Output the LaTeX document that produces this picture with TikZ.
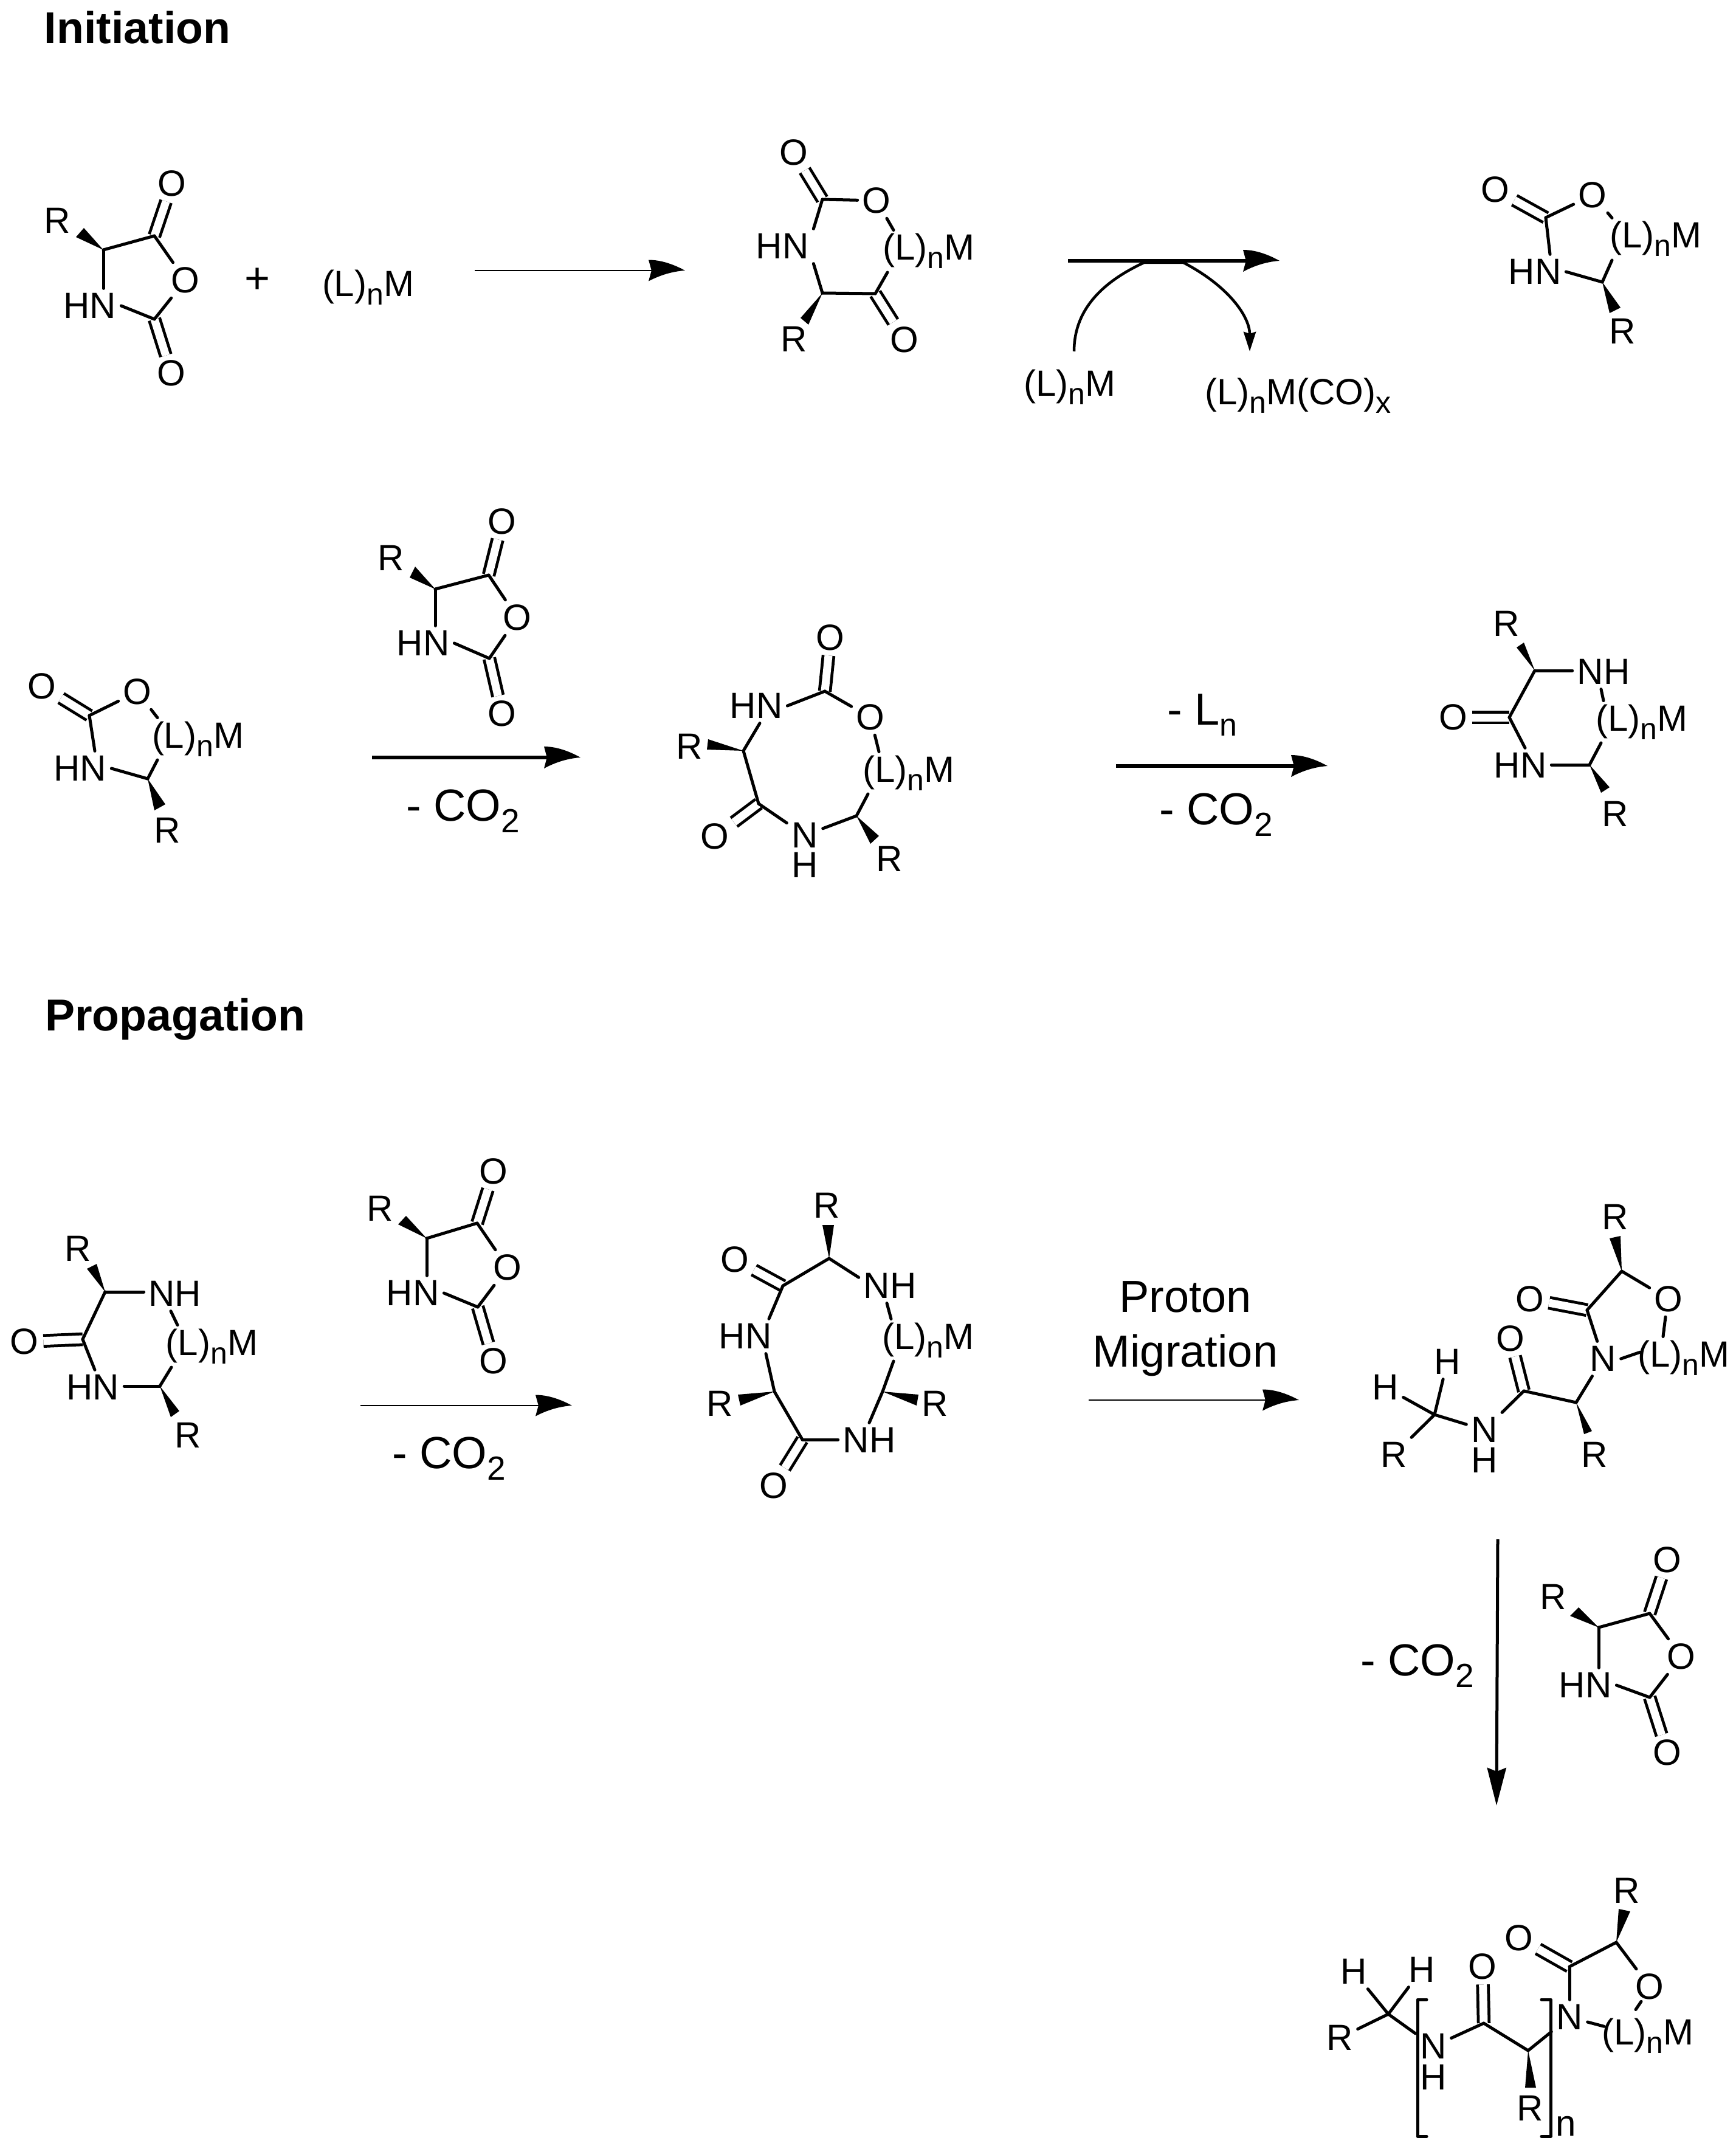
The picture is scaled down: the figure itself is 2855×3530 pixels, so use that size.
\documentclass[tikz,border=0pt]{standalone}
\usepackage{fontspec}
\setmainfont{Liberation Sans}
\usetikzlibrary{arrows.meta,calc}
\newcommand{\sbs}[1]{\raisebox{-2.8pt}{\fontsize{10}{10}\selectfont #1}}
\newcommand{\sbl}[1]{\raisebox{-3.8pt}{\fontsize{11}{11}\selectfont #1}}
\newcommand{\LnM}{\hspace*{-2pt}(L)\sbs{n}M}
\newcommand{\minCO}{- CO\sbl{2}}
\pgfdeclarearrow{
  name=ChemHead,
  setup code={
    \pgfarrowssettipend{0pt}
    \pgfarrowssetlineend{-0.7\pgfarrowlength}
    \pgfarrowssetbackend{-\pgfarrowlength}
    \pgfarrowshullpoint{0pt}{0pt}
    \pgfarrowsupperhullpoint{-\pgfarrowlength}{0.5\pgfarrowwidth}
    \pgfarrowssavethe\pgfarrowlength
    \pgfarrowssavethe\pgfarrowwidth
  },
  drawing code={
    \pgfpathmoveto{\pgfpointorigin}
    \pgfpathcurveto{\pgfpoint{-0.3\pgfarrowlength}{0.28\pgfarrowwidth}}{\pgfpoint{-0.65\pgfarrowlength}{0.5\pgfarrowwidth}}{\pgfpoint{-\pgfarrowlength}{0.5\pgfarrowwidth}}
    \pgfpathlineto{\pgfpoint{-0.92\pgfarrowlength}{0pt}}
    \pgfpathlineto{\pgfpoint{-\pgfarrowlength}{-0.5\pgfarrowwidth}}
    \pgfpathcurveto{\pgfpoint{-0.6\pgfarrowlength}{-0.14\pgfarrowwidth}}{\pgfpoint{-0.25\pgfarrowlength}{-0.03\pgfarrowwidth}}{\pgfpointorigin}
    \pgfpathclose
    \pgfusepathqfill
  },
  parameters={\the\pgfarrowlength,\the\pgfarrowwidth},
  defaults={length=12pt,width=7pt}
}
\tikzset{
  atom/.style={inner sep=0pt,outer sep=1.6pt,font=\fontsize{12}{12}\selectfont},
  lgand/.style={inner sep=0pt,outer sep=1.2pt,anchor=base west,font=\fontsize{12}{12}\selectfont},
  rxn/.style={inner sep=0pt,anchor=base west,font=\fontsize{14.8}{14.8}\selectfont},
  title/.style={inner sep=0pt,anchor=base west,font=\fontsize{14.7}{14.7}\selectfont\bfseries},
  bnd/.style={draw=black,line width=1pt,line cap=round,line join=round},
  dbl/.style={draw=black,line width=0.95pt,double=white,double distance=2.6pt},
  wdg/.style={fill=black,draw=none},
  thinarrow/.style={draw=black,line width=0.3pt,-{ChemHead[length=12pt,width=7pt]}},
  thickarrow/.style={draw=black,line width=1.2pt,-{ChemHead[length=12pt,width=7.2pt]}},
}
\begin{document}
\begin{tikzpicture}[x=0.2pt,y=-0.2pt]
\useasboundingbox (0,0) rectangle (2855,3530);
\node[title] (tInit) at (72,72) {Initiation};
\node[title] (tProp) at (73,1695) {Propagation};

% --- molecule a
\node[atom] (aR) at (94,363) {R};
\node[atom] (aHN) at (148,503) {HN};
\node[atom] (aO1) at (283,302) {O};
\node[atom] (aOr) at (305,461) {O};
\node[atom] (aO2) at (282,614) {O};
\coordinate (aC1) at (170,411);
\coordinate (aC2) at (254,388);
\coordinate (aC3) at (254,525);
\draw[dbl] (aC2) -- (aO1);
\draw[dbl] (aC3) -- (aO2);
\draw[bnd] (aC1) -- (aC2);
\draw[bnd] (aC1) -- (aC1 |- aHN.north);
\draw[bnd] (aC2) -- (aOr);
\draw[bnd] (aOr) -- (aC3);
\draw[bnd] (aHN.east) -- (aC3);
\fill[wdg] (aC1) -- (125,390) -- (138,375) -- cycle;
\node[inner sep=0pt,font=\fontsize{14.4}{14.4}\selectfont] (plus) at (424,462) {+};
\node[lgand] (rgL) at (534,488) {\LnM};
\coordinate (ar1s) at (781,445);
\coordinate (ar1e) at (1127,445);
\draw[thinarrow] (ar1s) -- (ar1e);

% --- molecule b
\node[atom] (bO1) at (1306,251) {O};
\node[atom] (bHN) at (1287,405) {HN};
\node[atom] (bR) at (1306,558) {R};
\node[atom] (bO) at (1442,330) {O};
\node[atom] (bO2) at (1488,559) {O};
\node[lgand] (bL) at (1456,428) {\LnM};
\coordinate (bC1) at (1353,328);
\coordinate (bC2) at (1353,482);
\coordinate (bC3) at (1440,483);
\draw[dbl] (bC1) -- (bO1);
\draw[dbl] (bC3) -- (bO2);
\draw[bnd] (bC1) -- (bO);
\draw[bnd] (bHN.north east) -- (bC1);
\draw[bnd] (bHN.south east) -- (bC2);
\draw[bnd] (bC2) -- (bC3);
\draw[bnd] (bC3) -- ([xshift=0.8pt]bL.south west);
\draw[bnd] (bO) -- ([xshift=2.8pt]bL.north west);
\fill[wdg] (bC2) -- (1317,523) -- (1330,534) -- cycle;

% --- arrow 2 with curved side arrow
\coordinate (ar2s) at (1757,429);
\coordinate (ar2e) at (2105,429);
\draw[thickarrow] (ar2s) -- (ar2e);
\node[lgand] (sideL) at (1688,652) {\LnM};
\node[lgand] (sideCO) at (1986,665) {\LnM(CO)\sbs{x}};
\coordinate (cv1) at (1767,578);
\coordinate (cv2) at (1882,432);
\coordinate (cv3) at (1947,432);
\coordinate (cv4) at (2056,578);
\draw[line width=0.9pt,-{Stealth[length=6.4pt,width=4pt,inset=0.6pt]}] (cv1) .. controls (1767,520) and (1800,470) .. (cv2) -- (cv3) .. controls (2020,470) and (2056,520) .. (cv4);

% --- molecule c
\node[atom] (cO1) at (2460,312) {O};
\node[atom] (cO) at (2620,321) {O};
\node[atom] (cHN) at (2525,447) {HN};
\node[lgand] (cL) at (2652,408) {\LnM};
\node[atom] (cR) at (2669,545) {R};
\coordinate (cC1) at (2543,358);
\coordinate (cC2) at (2636,464);
\draw[dbl] (cC1) -- (cO1);
\draw[bnd] (cC1) -- (cO);
\draw[bnd] (cC1) -- ([xshift=5pt]cHN.north);
\draw[bnd] (cHN.east) -- (cC2);
\draw[bnd] (cC2) -- (cL.south west);
\draw[bnd] (cO) -- (cL.north west);
\fill[wdg] (cC2) -- (2648,515) -- (2666,506) -- cycle;

% --- molecule d
\node[atom] (dO1) at (69,1129) {O};
\node[atom] (dO) at (226,1138) {O};
\node[atom] (dHN) at (132,1264) {HN};
\node[lgand] (dL) at (254,1230) {\LnM};
\node[atom] (dR) at (275,1366) {R};
\coordinate (dC1) at (147,1177);
\coordinate (dC2) at (243,1281);
\draw[dbl] (dC1) -- (dO1);
\draw[bnd] (dC1) -- (dO);
\draw[bnd] (dC1) -- ([xshift=4.8pt]dHN.north);
\draw[bnd] (dHN.east) -- (dC2);
\draw[bnd] (dC2) -- ([xshift=1pt]dL.south west);
\draw[bnd] (dO) -- ([xshift=1pt]dL.north west);
\fill[wdg] (dC2) -- (254,1333) -- (272,1323) -- cycle;

% --- molecule e
\node[atom] (eR) at (643,918) {R};
\node[atom] (eHN) at (696,1058) {HN};
\node[atom] (eO1) at (826,858) {O};
\node[atom] (eOr) at (851,1016) {O};
\node[atom] (eO2) at (826,1174) {O};
\coordinate (eC1) at (716,969);
\coordinate (eC2) at (804,946);
\coordinate (eC3) at (805,1083);
\draw[dbl] (eC2) -- (eO1);
\draw[dbl] (eC3) -- (eO2);
\draw[bnd] (eC1) -- (eC2);
\draw[bnd] (eC1) -- (eC1 |- eHN.north);
\draw[bnd] (eC2) -- (eOr);
\draw[bnd] (eOr) -- (eC3);
\draw[bnd] (eHN.east) -- (eC3);
\fill[wdg] (eC1) -- (674,950) -- (683,932) -- cycle;

\coordinate (ar3s) at (612,1246);
\coordinate (ar3e) at (955,1246);
\draw[thickarrow] (ar3s) -- (ar3e);
\node[rxn] (lb3) at (667,1350) {\minCO};

% --- molecule f
\node[atom] (fO1) at (1366,1049) {O};
\node[atom] (fHN) at (1244,1161) {HN};
\node[atom] (fO) at (1432,1180) {O};
\node[atom] (fR) at (1134,1228) {R};
\node[atom] (fO2) at (1176,1376) {O};
\node[atom] (fN) at (1324,1374) {N};
\node[atom] (fH) at (1324,1423) {H};
\node[lgand] (fL) at (1423,1286) {\LnM};
\node[atom] (fR2) at (1463,1413) {R};
\coordinate (fC1) at (1357,1137);
\coordinate (fC2) at (1223,1235);
\coordinate (fC3) at (1248,1322);
\coordinate (fC4) at (1409,1342);
\draw[dbl] (fC1) -- (fO1);
\draw[dbl] (fC3) -- (fO2);
\draw[bnd] (fC1) -- (fO);
\draw[bnd] (fHN.east) -- (fC1);
\draw[bnd] ([xshift=1.2pt]fHN.south) -- (fC2);
\draw[bnd] (fC2) -- (fC3);
\draw[bnd] (fC3) -- (fN);
\draw[bnd] (fN) -- (fC4);
\draw[bnd] (fC4) -- ([xshift=1pt]fL.south west);
\draw[bnd] (fO) -- ([xshift=4.6pt]fL.north west);
\fill[wdg] (fC2) -- (1165,1216) -- (1163,1233) -- cycle;
\fill[wdg] (fC4) -- (1446,1375) -- (1432,1388) -- cycle;

\coordinate (ar4s) at (1836,1260);
\coordinate (ar4e) at (2184,1260);
\draw[thickarrow] (ar4s) -- (ar4e);
\node[rxn] (lb4a) at (1919,1192) {- L\raisebox{-3.6pt}{\fontsize{10.4}{10.4}\selectfont n}};
\node[rxn] (lb4b) at (1906,1356) {\minCO};

% --- molecule g
\node[atom] (gR) at (2478,1026) {R};
\node[atom] (gNH) at (2638,1105) {NH};
\node[atom] (gO) at (2391,1180) {O};
\node[atom] (gHN) at (2501,1259) {HN};
\node[lgand] (gL) at (2629,1202) {\LnM};
\node[atom] (gR2) at (2657,1339) {R};
\coordinate (gC1) at (2525,1103);
\coordinate (gC2) at (2483,1180);
\coordinate (gC3) at (2615,1258);
\draw[dbl] (gC2) -- (gO);
\draw[bnd] (gC1) -- (gC2);
\draw[bnd] (gC1) -- (gC1 -| gNH.west);
\draw[bnd] (gC2) -- ([xshift=1.6pt]gHN.north);
\draw[bnd] (gC3 -| gHN.east) -- (gC3);
\draw[bnd] (gC3) -- ([xshift=1pt]gL.south west);
\draw[bnd] ([xshift=-0.8pt]gNH.south) -- ([xshift=1.8pt]gL.north west);
\fill[wdg] (gC1) -- (2495,1065) -- (2507,1057) -- cycle;
\fill[wdg] (gC3) -- (2648,1295) -- (2634,1304) -- cycle;

% --- molecule h
\node[atom] (hR) at (128,2054) {R};
\node[atom] (hNH) at (288,2128) {NH};
\node[atom] (hO) at (40,2207) {O};
\node[atom] (hHN) at (153,2282) {HN};
\node[lgand] (hL) at (277,2229) {\LnM};
\node[atom] (hR2) at (309,2361) {R};
\coordinate (hC1) at (173,2125);
\coordinate (hC2) at (136,2203);
\coordinate (hC3) at (263,2280);
\draw[dbl] (hC2) -- (hO);
\draw[bnd] (hC1) -- (hC2);
\draw[bnd] (hC1) -- (hC1 -| hNH.west);
\draw[bnd] (hC2) -- ([xshift=0.6pt]hHN.north);
\draw[bnd] (hC3 -| hHN.east) -- (hC3);
\draw[bnd] (hC3) -- ([xshift=1pt]hL.south west);
\draw[bnd] ([xshift=-1.4pt]hNH.south) -- ([xshift=3pt]hL.north west);
\fill[wdg] (hC1) -- (143,2087) -- (159,2079) -- cycle;
\fill[wdg] (hC3) -- (281,2331) -- (295,2321) -- cycle;

% --- molecule i
\node[atom] (iR) at (625,1988) {R};
\node[atom] (iHN) at (679,2127) {HN};
\node[atom] (iO1) at (812,1927) {O};
\node[atom] (iOr) at (835,2085) {O};
\node[atom] (iO2) at (812,2239) {O};
\coordinate (iC1) at (702,2037);
\coordinate (iC2) at (785,2012);
\coordinate (iC3) at (786,2150);
\draw[dbl] (iC2) -- (iO1);
\draw[dbl] (iC3) -- (iO2);
\draw[bnd] (iC1) -- (iC2);
\draw[bnd] (iC1) -- (iC1 |- iHN.north);
\draw[bnd] (iC2) -- (iOr);
\draw[bnd] (iOr) -- (iC3);
\draw[bnd] (iHN.east) -- (iC3);
\fill[wdg] (iC1) -- (655,2014) -- (668,2000) -- cycle;

\coordinate (ar5s) at (593,2312);
\coordinate (ar5e) at (941,2312);
\draw[thinarrow] (ar5s) -- (ar5e);
\node[rxn] (lb5) at (644,2415) {\minCO};

% --- molecule j
\node[atom] (jR1) at (1360,1983) {R};
\node[atom] (jNH1) at (1464,2115) {NH};
\node[atom] (jO1) at (1209,2072) {O};
\node[atom] (jHN) at (1226,2198) {HN};
\node[atom] (jR2) at (1184,2309) {R};
\node[atom] (jO2) at (1273,2444) {O};
\node[atom] (jNH2) at (1430,2369) {NH};
\node[atom] (jR3) at (1538,2309) {R};
\node[lgand] (jL) at (1455,2219) {\LnM};
\coordinate (jC1) at (1364,2070);
\coordinate (jC2) at (1288,2115);
\coordinate (jC3) at (1274,2289);
\coordinate (jC4) at (1320,2368);
\coordinate (jC5) at (1452,2289);
\draw[dbl] (jC2) -- (jO1);
\draw[dbl] (jC4) -- (jO2);
\draw[bnd] (jC1) -- (jC2);
\draw[bnd] (jC1) -- (jNH1.165);
\draw[bnd] (jC2) -- ([xshift=7.8pt]jHN.north);
\draw[bnd] ([xshift=6.8pt]jHN.south) -- (jC3);
\draw[bnd] (jC3) -- (jC4);
\draw[bnd] (jC4) -- (jC4 -| jNH2.west);
\draw[bnd] (jC5) -- (jNH2.north);
\draw[bnd] (jC5) -- ([xshift=3pt]jL.south west);
\draw[bnd] ([xshift=-1pt]jNH1.south) -- ([xshift=2.2pt]jL.north west);
\fill[wdg] (jC1) -- (1353,2015) -- (1372,2015) -- cycle;
\fill[wdg] (jC3) -- (1214,2294) -- (1218,2312) -- cycle;
\fill[wdg] (jC5) -- (1511,2294) -- (1508,2312) -- cycle;

\node[rxn,anchor=base] (lbP) at (1950,2158) {Proton};
\node[rxn,anchor=base] (lbM) at (1950,2248) {Migration};
\coordinate (ar6s) at (1791,2303);
\coordinate (ar6e) at (2137,2303);
\draw[thinarrow] (ar6s) -- (ar6e);

% --- molecule k
\node[atom] (kR1) at (2657,2002) {R};
\node[atom] (kO1) at (2517,2137) {O};
\node[atom] (kOr) at (2745,2137) {O};
\node[atom] (kO2) at (2485,2202) {O};
\node[atom] (kN) at (2637,2235) {N};
\node[lgand] (kL) at (2698,2248) {\LnM};
\node[atom] (kH1) at (2279,2282) {H};
\node[atom] (kH2) at (2381,2240) {H};
\node[atom] (kR2) at (2293,2393) {R};
\node[atom] (kNb) at (2442,2352) {N};
\node[atom] (kHb) at (2442,2402) {H};
\node[atom] (kR3) at (2623,2393) {R};
\coordinate (kC1) at (2668,2091);
\coordinate (kC2) at (2611,2155);
\coordinate (kC3) at (2593,2307);
\coordinate (kC4) at (2507,2288);
\coordinate (kC5) at (2360,2327);
\draw[dbl] (kC2) -- (kO1);
\draw[dbl] (kC4) -- (kO2);
\draw[bnd] (kC1) -- (kC2);
\draw[bnd] (kC1) -- (kOr);
\draw[bnd] (kC2) -- (kN);
\draw[bnd] (kN) -- (kC3);
\draw[bnd] (kC3) -- (kC4);
\draw[bnd] (kC4) -- (kNb);
\draw[bnd] (kNb) -- (kC5);
\draw[bnd] (kC5) -- (kH1);
\draw[bnd] (kC5) -- (kH2);
\draw[bnd] (kC5) -- (kR2);
\draw[bnd] ([xshift=-1pt]kOr.south) -- ([xshift=7.6pt]kL.north west);
\draw[bnd] (kN.east) -- ([yshift=1.8pt]kL.west);
\fill[wdg] (kC1) -- (2648,2037) -- (2666,2033) -- cycle;
\fill[wdg] (kC3) -- (2606,2359) -- (2619,2354) -- cycle;

% --- arrow 7
\coordinate (ar7s) at (2464,2532);
\coordinate (ar7e) at (2462,2970);
\draw[draw=black,line width=1pt,-{Stealth[length=12.4pt,width=6.2pt,inset=1.2pt]}] (ar7s) -- (ar7e);
\node[rxn] (lb7) at (2237,2756) {\minCO};

% --- molecule l
\node[atom] (lR) at (2555,2627) {R};
\node[atom] (lHN) at (2608,2772) {HN};
\node[atom] (lO1) at (2743,2566) {O};
\node[atom] (lOr) at (2766,2725) {O};
\node[atom] (lO2) at (2743,2883) {O};
\coordinate (lC1) at (2630,2677);
\coordinate (lC2) at (2714,2654);
\coordinate (lC3) at (2714,2792);
\draw[dbl] (lC2) -- (lO1);
\draw[dbl] (lC3) -- (lO2);
\draw[bnd] (lC1) -- (lC2);
\draw[bnd] (lC1) -- (lC1 |- lHN.north);
\draw[bnd] (lC2) -- (lOr);
\draw[bnd] (lOr) -- (lC3);
\draw[bnd] (lHN.east) -- (lC3);
\fill[wdg] (lC1) -- (2583,2658) -- (2597,2644) -- cycle;

% --- molecule m
\node[atom] (mR1) at (2676,3110) {R};
\node[atom] (mO1) at (2499,3188) {O};
\node[atom] (mOr) at (2714,3268) {O};
\node[atom] (mO2) at (2439,3235) {O};
\node[atom] (mN) at (2582,3318) {N};
\node[lgand] (mL) at (2639,3363) {\LnM};
\node[atom] (mH1) at (2227,3243) {H};
\node[atom] (mH2) at (2339,3240) {H};
\node[atom] (mR2) at (2204,3352) {R};
\node[atom] (mNb) at (2358,3366) {N};
\node[atom] (mHb) at (2358,3417) {H};
\node[atom] (mR3) at (2517,3468) {R};
\coordinate (mC1) at (2659,3195);
\coordinate (mC2) at (2582,3235);
\coordinate (mC3) at (2514,3373);
\coordinate (mC4) at (2441,3328);
\coordinate (mC5) at (2284,3313);
\draw[dbl] (mC2) -- (mO1);
\draw[dbl] (mC4) -- (mO2);
\draw[bnd] (mC1) -- (mC2);
\draw[bnd] (mC1) -- (mOr);
\draw[bnd] (mC2) -- (mN);
\draw[bnd] (mN) -- (mC3);
\draw[bnd] (mC3) -- (mC4);
\draw[bnd] (mC4) -- (mNb);
\draw[bnd] (mNb) -- (mC5);
\draw[bnd] (mC5) -- (mH1);
\draw[bnd] (mC5) -- (mH2);
\draw[bnd] (mC5) -- (mR2);
\draw[bnd] ([xshift=-2.8pt,yshift=1pt]mOr.south) -- ([xshift=10.4pt,yshift=1.6pt]mL.north west);
\draw[bnd] ([yshift=-1.6pt]mN.east) -- ([yshift=3pt]mL.west);
\fill[wdg] (mC1) -- (2663,3140) -- (2682,3144) -- cycle;
\fill[wdg] (mC3) -- (2509,3434) -- (2527,3434) -- cycle;
\draw[bnd] (2347,3289) -| (2332,3514) -- (2347,3514);
\draw[bnd] (2536,3289) -| (2551,3514) -- (2536,3514);
\node[rxn,anchor=base,font=\fontsize{12}{12}\selectfont] (mn) at (2576,3513) {n};
\end{tikzpicture}
\end{document}
